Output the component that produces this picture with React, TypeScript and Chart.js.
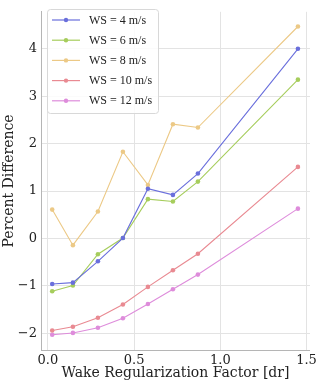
import React, { useEffect, useRef } from "react";
import { Chart, registerables } from "chart.js";

Chart.register(...registerables);

const xValues = [0.025, 0.145, 0.29, 0.435, 0.58, 0.725, 0.87, 1.45];
const ws4 = [-0.96, -0.93, -0.48, 0.01, 1.05, 0.92, 1.37, 4.0];
const ws6 = [-1.11, -0.99, -0.33, 0.01, 0.83, 0.78, 1.2, 3.35];
const ws8 = [0.61, -0.14, 0.57, 1.83, 1.13, 2.41, 2.34, 4.47];
const ws10 = [-1.94, -1.86, -1.67, -1.39, -1.02, -0.67, -0.32, 1.51];
const ws12 = [-2.03, -1.99, -1.88, -1.68, -1.38, -1.07, -0.76, 0.63];

const seriesLabels = ["WS = 4 m/s", "WS = 6 m/s", "WS = 8 m/s", "WS = 10 m/s", "WS = 12 m/s"];
const seriesValues = [ws4, ws6, ws8, ws10, ws12];
const seriesColors = ["#6a6fdc", "#a6cd5c", "#ecc986", "#e98a92", "#de8cdb"];

const xTicks = [0, 0.5, 1.0, 1.5];
const yTicks = [-2, -1, 0, 1, 2, 3, 4];

const SERIF = "'DejaVu Serif', serif";
const LEGEND_FONT = "'Liberation Serif', 'Times New Roman', serif";

const legendPlugin = {
  id: "innerLegend",
  afterDatasetsDraw(chart: any) {
    const ctx = chart.ctx;
    const x0 = 47;
    const y0 = 9;
    const w = 111;
    const h = 104;
    ctx.save();
    ctx.fillStyle = "rgba(255,255,255,0.85)";
    ctx.strokeStyle = "#d8d8d8";
    ctx.lineWidth = 1;
    ctx.beginPath();
    const r = 3;
    ctx.moveTo(x0 + r + 0.5, y0 + 0.5);
    ctx.arcTo(x0 + w + 0.5, y0 + 0.5, x0 + w + 0.5, y0 + h + 0.5, r);
    ctx.arcTo(x0 + w + 0.5, y0 + h + 0.5, x0 + 0.5, y0 + h + 0.5, r);
    ctx.arcTo(x0 + 0.5, y0 + h + 0.5, x0 + 0.5, y0 + 0.5, r);
    ctx.arcTo(x0 + 0.5, y0 + 0.5, x0 + w + 0.5, y0 + 0.5, r);
    ctx.closePath();
    ctx.fill();
    ctx.stroke();
    chart.data.datasets.forEach((ds: any, i: number) => {
      const y = 20 + i * 20.2;
      ctx.strokeStyle = ds.borderColor;
      ctx.lineWidth = 1.2;
      ctx.beginPath();
      ctx.moveTo(52, y);
      ctx.lineTo(80, y);
      ctx.stroke();
      ctx.fillStyle = ds.pointBackgroundColor;
      ctx.beginPath();
      ctx.arc(66, y, 2.2, 0, Math.PI * 2);
      ctx.fill();
      ctx.fillStyle = "#222";
      ctx.font = `12px ${LEGEND_FONT}`;
      ctx.textBaseline = "middle";
      ctx.textAlign = "left";
      ctx.fillText(ds.label, 89, y + 0.5);
    });
    ctx.restore();
  },
};

export default function App() {
  const ref = useRef<HTMLCanvasElement | null>(null);
  useEffect(() => {
    document.body.style.margin = "0";
    if (!ref.current) return;
    const chart = new Chart(ref.current, {
      type: "line",
      data: {
        datasets: seriesLabels.map((label, i) => ({
          label,
          data: xValues.map((x, j) => ({ x, y: seriesValues[i][j] })),
          borderColor: seriesColors[i],
          backgroundColor: seriesColors[i],
          pointBackgroundColor: seriesColors[i],
          pointBorderColor: seriesColors[i],
          pointRadius: 2.3,
          pointBorderWidth: 0,
          borderWidth: 1.1,
          tension: 0,
          fill: false,
        })),
      },
      options: {
        animation: false,
        responsive: false,
        maintainAspectRatio: false,
        layout: { padding: { left: 0, right: 9, top: 2, bottom: 0 } },
        plugins: { legend: { display: false }, tooltip: { enabled: false } },
        scales: {
          x: {
            type: "linear",
            min: -0.04,
            max: 1.52,
            afterBuildTicks: (s: any) => {
              s.ticks = xTicks.map((v) => ({ value: v }));
            },
            afterFit: (s: any) => {
              s.height = 34;
            },
            grid: { color: "#e3e3e3", lineWidth: 1, drawTicks: false },
            border: { display: true, color: "#b5b5b5", width: 1 },
            ticks: {
              padding: 3,
              color: "#222",
              font: { family: SERIF, size: 13 },
              callback: (v: any) => Number(v).toFixed(1),
              maxRotation: 0,
            },
            title: {
              display: true,
              text: "Wake Regularization Factor [dr]",
              color: "#222",
              font: { family: SERIF, size: 14 },
              padding: { top: 0, bottom: 2 },
            },
          },
          y: {
            type: "linear",
            min: -2.35,
            max: 4.78,
            afterBuildTicks: (s: any) => {
              s.ticks = yTicks.map((v) => ({ value: v }));
            },
            afterFit: (s: any) => {
              s.width = 41;
            },
            grid: { color: "#e3e3e3", lineWidth: 1, drawTicks: false },
            border: { display: true, color: "#b5b5b5", width: 1 },
            ticks: {
              padding: 4,
              color: "#222",
              font: { family: SERIF, size: 13 },
              callback: (v: any) => (Number(v) < 0 ? "\u2212" + Math.abs(Number(v)) : String(v)),
            },
            title: {
              display: true,
              text: "Percent Difference",
              color: "#222",
              font: { family: SERIF, size: 14 },
              padding: { top: 1, bottom: 0 },
            },
          },
        },
      },
      plugins: [legendPlugin],
    } as any);
    return () => chart.destroy();
  }, []);
  return (
    <div style={{ width: 320, height: 384 }}>
      <canvas ref={ref} width={320} height={384} style={{ display: "block" }} />
    </div>
  );
}
